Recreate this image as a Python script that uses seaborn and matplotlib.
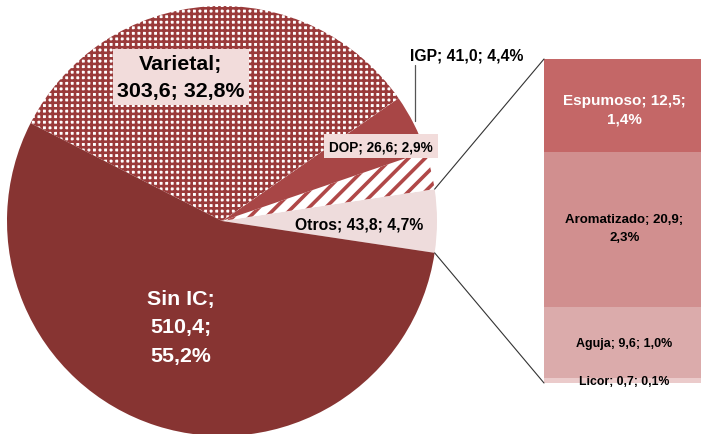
import matplotlib
matplotlib.use("Agg")
import matplotlib.pyplot as plt
from matplotlib.patches import ConnectionPatch
import seaborn as sns
import pandas as pd
import numpy as np

# ---- data ----
pie_labels = ["Otros", "DOP", "IGP", "Varietal", "Sin IC"]
pie_values = [43.8, 26.6, 41.0, 303.6, 510.4]
pie_pcts = ["4,7%", "2,9%", "4,4%", "32,8%", "55,2%"]
pie_texts = ["43,8", "26,6", "41,0", "303,6", "510,4"]

bar_labels = ["Espumoso", "Aromatizado", "Aguja", "Licor"]
bar_values = [12.5, 20.9, 9.6, 0.7]
bar_texts = ["12,5", "20,9", "9,6", "0,7"]
bar_pcts = ["1,4%", "2,3%", "1,0%", "0,1%"]

sns.set_theme(style="white")
FONT = ["Liberation Sans", "DejaVu Sans"]
plt.rcParams["font.family"] = FONT
plt.rcParams["hatch.linewidth"] = 1.9

W, H = 701, 435
fig = plt.figure(figsize=(W / 100, H / 100), dpi=100)

# pie axes: center (222,222) px, radius 215 px
cx, cy, r = 222, 222, 215
ax = fig.add_axes([(cx - r) / W, (H - cy - r) / H, 2 * r / W, 2 * r / H])

total = sum(pie_values)
start = -pie_values[0] / total * 360 / 2
face = ["#EEDCDC", "white", "#A84646", "white", "#873432"]
hatches = [None, "//", None, "+++", None]
edge = ["#EEDCDC", "#B04848", "#A84646", "#9A3A3A", "#873432"]
wedges, _ = ax.pie(pie_values, startangle=start, counterclock=True, radius=1,
                   colors=face, wedgeprops=dict(linewidth=0))
for w, h, e in zip(wedges, hatches, edge):
    w.set_edgecolor(e)
    if h:
        w.set_hatch(h)
        if hasattr(w, "set_hatch_linewidth"):
            w.set_hatch_linewidth(2.6 if h == "//" else 1.9)
ax.set_xlim(-1, 1)
ax.set_ylim(-1, 1)
ax.axis("off")

def px(x, y):
    return ((x - cx) / r, (cy - y) / r)

boxc = "#F2DCDB"
BIG = 15.4
# Varietal
x, y = px(181, 78)
ax.text(x, y, f"{pie_labels[3]};\n{pie_texts[3]}; {pie_pcts[3]}", ha="center", va="center",
        fontsize=BIG, fontweight="bold", color="black", linespacing=1.55,
        bbox=dict(boxstyle="square,pad=0.22", fc=boxc, ec="none"))
# Sin IC
x, y = px(181, 328)
ax.text(x, y, f"{pie_labels[4]};\n{pie_texts[4]};\n{pie_pcts[4]}", ha="center", va="center",
        fontsize=BIG, fontweight="bold", color="white", linespacing=1.62)
# IGP
x, y = px(467, 56)
ax.text(x, y, f"{pie_labels[2]}; {pie_texts[2]}; {pie_pcts[2]}", ha="center", va="center",
        fontsize=11.3, fontweight="bold", color="black")
x0, y0 = px(415, 66)
x1, y1 = px(415, 122)
ax.plot([x0, x1], [y0, y1], color="#555555", lw=0.9)
# DOP
x, y = px(381, 147)
ax.text(x, y, f"{pie_labels[1]}; {pie_texts[1]}; {pie_pcts[1]}", ha="center", va="center",
        fontsize=9.8, fontweight="bold", color="black",
        bbox=dict(boxstyle="square,pad=0.4", fc=boxc, ec="none"))
# Otros
x, y = px(359, 225)
ax.text(x, y, f"{pie_labels[0]}; {pie_texts[0]}; {pie_pcts[0]}", ha="center", va="center",
        fontsize=11.3, fontweight="bold", color="black")

# bar axes
bx0, bx1, by0, by1 = 544, 705, 60, 384
ax2 = fig.add_axes([bx0 / W, (H - by1) / H, (bx1 - bx0) / W, (by1 - by0) / H])
btotal = sum(bar_values)
bar_colors = ["#C46767", "#D18F8F", "#DBABAB", "#EBCBCB"]
cum = np.cumsum(bar_values[::-1])[::-1]
for i in range(len(bar_values)):
    df = pd.DataFrame({"g": ["x"], "v": [cum[i]]})
    sns.barplot(data=df, x="g", y="v", ax=ax2, color=bar_colors[i], width=1.0,
                saturation=1, linewidth=0)
ax2.set_xlim(-0.5, 0.5)
ax2.set_ylim(0, btotal)
ax2.axis("off")

def bpy(y):
    return (by1 - y) / (by1 - by0) * btotal

ax2.text(0, bpy(110), f"{bar_labels[0]}; {bar_texts[0]};\n{bar_pcts[0]}", ha="center", va="center",
         fontsize=11, fontweight="bold", color="white", linespacing=1.4)
ax2.text(0, bpy(229), f"{bar_labels[1]}; {bar_texts[1]};\n{bar_pcts[1]}", ha="center", va="center",
         fontsize=9.5, fontweight="bold", color="black", linespacing=1.65)
ax2.text(0, bpy(344), f"{bar_labels[2]}; {bar_texts[2]}; {bar_pcts[2]}", ha="center", va="center",
         fontsize=9, fontweight="bold", color="black")
ax2.text(0, bpy(382), f"{bar_labels[3]}; {bar_texts[3]}; {bar_pcts[3]}", ha="center", va="center",
         fontsize=8.8, fontweight="bold", color="black")

# connection lines
theta = np.deg2rad(-start)
for sgn, yb in [(1, btotal), (-1, 0)]:
    con = ConnectionPatch(xyA=(np.cos(theta), sgn * np.sin(theta)), coordsA=ax.transData,
                          xyB=(-0.5, yb), coordsB=ax2.transData,
                          color="#333333", lw=0.8)
    fig.add_artist(con)

fig.savefig("out.png", dpi=100)
